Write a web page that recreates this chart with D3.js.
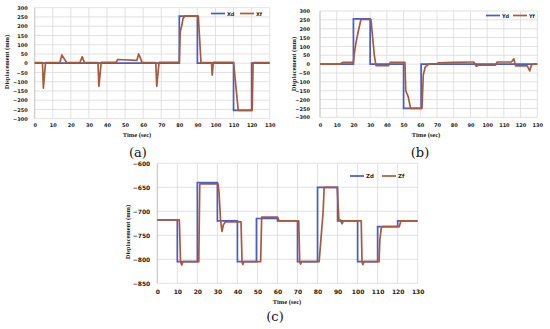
<!DOCTYPE html>
<html><head><meta charset="utf-8">
<script src="https://cdn.jsdelivr.net/npm/d3@7"></script>
<style>
html,body{margin:0;padding:0;background:#fff;}
svg{display:block;}
.tick text{font-family:"DejaVu Sans",sans-serif;font-weight:bold;fill:#222;}
</style></head>
<body>
<svg id="c" width="550" height="329"></svg>
<script>
// ---- Data ----
const xTicks = [0,10,20,30,40,50,60,70,80,90,100,110,120,130];
const abYTicks = [300,250,200,150,100,50,0,-50,-100,-150,-200,-250,-300];
const cYTicks = [-600,-650,-700,-750,-800,-850];

// (a) X displacement
const xdTime = [0,80,80,90,90,110,110,120,120,130];
const xdVal  = [0,0,255,255,0,0,-255,-255,0,0];
const xfTime = [0,4.3,4.8,6,14,15,17.5,25,26.3,27.5,35,35.5,36.8,45,46,56.5,57.5,59.5,67,67.5,68.8,80,80.5,81.5,82,83,90.5,92,97.8,98.2,98.8,110,112.6,120.3,120.8,130];
const xfVal  = [3,3,-135,3,5,45,5,3,35,3,3,-125,5,5,20,15,50,3,3,-125,5,5,170,210,240,255,255,3,3,-65,5,5,-255,-255,3,3];

// (b) Y displacement
const ydTime = [0,20,20,30,30,50,50,60.5,60.5,130];
const ydVal  = [0,0,255,255,0,0,-250,-250,0,0];
const yfTime = [0,12,13.5,20,20.5,21.5,23,24.5,30.5,31.5,32.5,33.5,41,42,50.8,51.3,52.8,54.2,61,61.8,63,65,70,71,80,90,92,93.5,95,105,106,114.5,116,117,124,125.5,126.5,128,130];
const yfVal  = [0,0,10,10,60,120,190,252,252,150,50,-8,-8,10,10,-150,-185,-250,-250,-60,-15,0,3,8,10,12,12,-12,-5,-5,12,12,30,-10,-10,-38,-5,0,0];

// (c) Z displacement
const zdTime = [0,10,10,20,20,30,30,40,40,49.5,49.5,60,60,70,70,80,80,90,90,100,100,110,110,120,120,130];
const zdVal  = [-718,-718,-805,-805,-640,-640,-720,-720,-805,-805,-715,-715,-720,-720,-805,-805,-650,-650,-720,-720,-805,-805,-732,-732,-720,-720];
const zfTime = [0,11,11.6,12.2,12.8,20.7,21.2,30.3,30.8,31.6,32.3,33,34,41.8,42.3,42.7,43.2,51.6,52.1,60,60.8,70.6,71.1,71.5,72,80.8,82.8,83.3,89.8,90.3,90.7,91.5,92.2,93,101.8,102.2,102.6,103.2,110.7,111.1,111.8,112.5,120.8,121.2,121.6,130];
const zfVal  = [-718,-718,-805,-812,-805,-805,-643,-643,-660,-720,-742,-728,-722,-722,-805,-811,-805,-805,-712,-712,-720,-720,-805,-810,-805,-805,-700,-650,-650,-690,-720,-718,-726,-720,-720,-805,-811,-805,-805,-760,-735,-732,-732,-726,-720,-720];

const seriesNames = {a:["Xd","Xf"], b:["Yd","Yf"], c:["Zd","Zf"]};
const panelLabels = ["(a)","(b)","(c)"];
const blue = "#4a5cc6", brown = "#a85a3e";

const svg = d3.select("#c");
const zip = (t,v) => t.map((d,i)=>[d,v[i]]);

function panel(cfg){
  const x = d3.scaleLinear().domain([0,130]).range([cfg.l,cfg.r]);
  const y = d3.scaleLinear().domain(cfg.yDom).range([cfg.b,cfg.t]);
  const g = svg.append("g");
  // grid
  g.append("g").selectAll("line").data(xTicks).join("line")
    .attr("x1",d=>x(d)).attr("x2",d=>x(d)).attr("y1",cfg.t).attr("y2",cfg.b)
    .attr("stroke","#d9d9d9").attr("stroke-width",0.8);
  g.append("g").selectAll("line").data(cfg.yTicks).join("line")
    .attr("y1",d=>y(d)).attr("y2",d=>y(d)).attr("x1",cfg.l).attr("x2",cfg.r)
    .attr("stroke","#d9d9d9").attr("stroke-width",0.8);
  g.append("line").attr("x1",cfg.l).attr("x2",cfg.l).attr("y1",cfg.t).attr("y2",cfg.b)
    .attr("stroke","#bfbfbf").attr("stroke-width",0.8);
  // axes
  const ya = d3.axisLeft(y).tickValues(cfg.yTicks).tickSize(0).tickPadding(cfg.ypad);
  const ag = g.append("g").attr("transform",`translate(${cfg.l},0)`).call(ya);
  ag.select(".domain").remove();
  ag.selectAll("text").style("font-size",cfg.fs+"px");
  const xa = d3.axisBottom(x).tickValues(xTicks).tickSize(0).tickPadding(cfg.xpad);
  const xg = g.append("g").attr("transform",`translate(0,${cfg.b})`).call(xa);
  xg.select(".domain").remove();
  xg.selectAll("text").style("font-size",cfg.fs+"px");
  // lines
  const line = d3.line().x(d=>x(d[0])).y(d=>y(d[1]));
  g.append("path").datum(cfg.d).attr("d",line).attr("fill","none")
    .attr("stroke",blue).attr("stroke-width",1.7);
  g.append("path").datum(cfg.f).attr("d",line).attr("fill","none")
    .attr("stroke",brown).attr("stroke-width",1.7).attr("stroke-linejoin","round");
  // titles
  g.append("text").attr("transform",`translate(${cfg.ytx},${cfg.yty}) rotate(-90)`)
    .attr("text-anchor","middle").attr("font-family","Liberation Serif, serif")
    .attr("font-weight","bold").attr("font-size",cfg.tfs).attr("fill","#222")
    .text("Displacement (mm)");
  g.append("text").attr("x",cfg.xtx).attr("y",cfg.xty)
    .attr("text-anchor","middle").attr("font-family","Liberation Serif, serif")
    .attr("font-weight","bold").attr("font-size",cfg.tfs).attr("fill","#222")
    .text("Time (sec)");
  g.append("text").attr("x",cfg.px).attr("y",cfg.py)
    .attr("text-anchor","middle").attr("font-family","DejaVu Serif, serif")
    .attr("font-size",13).attr("fill","#111").text(cfg.label);
  // legend
  const lg = g.append("g");
  [[cfg.lx1,blue,cfg.names[0]],[cfg.lx2,brown,cfg.names[1]]].forEach(([lx,c,n])=>{
    lg.append("line").attr("x1",lx).attr("x2",lx+14).attr("y1",cfg.ly).attr("y2",cfg.ly)
      .attr("stroke",c).attr("stroke-width",1.7);
    lg.append("text").attr("x",lx+16).attr("y",cfg.ly+2).attr("font-family","DejaVu Sans, sans-serif")
      .attr("font-weight","bold").attr("font-size",cfg.lfs).attr("fill","#222").text(n);
  });
}

panel({l:34.7,r:269.7,t:7.7,b:118.7,yDom:[-300,300],yTicks:abYTicks,fs:5,ypad:7,xpad:5,
  d:zip(xdTime,xdVal),f:zip(xfTime,xfVal),tfs:6.5,ytx:9,yty:62,xtx:137,xty:137,
  px:138,py:157,label:panelLabels[0],names:seriesNames.a,lx1:211,lx2:240,ly:13.5,lfs:5});
panel({l:320,r:537.3,t:11,b:117.3,yDom:[-300,300],yTicks:abYTicks,fs:5,ypad:10,xpad:6,
  d:zip(ydTime,ydVal),f:zip(yfTime,yfVal),tfs:6.5,ytx:296,yty:64,xtx:426,xty:137,
  px:420,py:157,label:panelLabels[1],names:seriesNames.b,lx1:486,lx2:513,ly:15.5,lfs:5});
panel({l:157.3,r:417.7,t:163.3,b:283.3,yDom:[-850,-600],yTicks:cYTicks,fs:6,ypad:7,xpad:6,
  d:zip(zdTime,zdVal),f:zip(zfTime,zfVal),tfs:6.5,ytx:130,yty:232,xtx:287,xty:304,
  px:275,py:321,label:panelLabels[2],names:seriesNames.c,lx1:350,lx2:382,ly:176,lfs:5.5});
</script>
</body></html>
